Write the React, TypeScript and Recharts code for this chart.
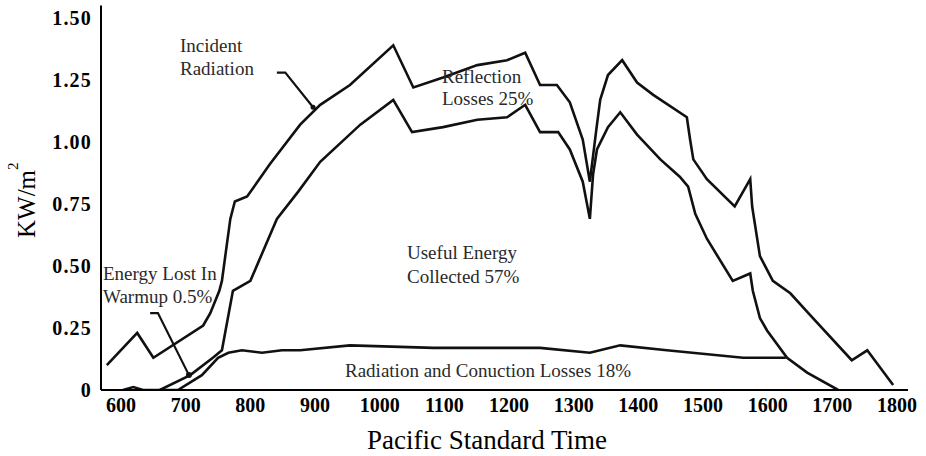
import React from "react";
import { LineChart, Line, XAxis, YAxis, ReferenceDot } from "recharts";

// ---- data (time in PST, value in kW/m^2) ----
const incidentT = [578, 625, 650, 727, 738, 752, 756, 769, 776, 795, 830, 877, 908, 954, 1021, 1052, 1098, 1151, 1197, 1225, 1248, 1274, 1294, 1314, 1325, 1335, 1341, 1353, 1375, 1398, 1423, 1475, 1480, 1485, 1506, 1549, 1573, 1576, 1588, 1608, 1635, 1670, 1730, 1754, 1794];
const incidentV = [0.10, 0.23, 0.13, 0.26, 0.31, 0.40, 0.44, 0.69, 0.76, 0.78, 0.91, 1.07, 1.15, 1.23, 1.39, 1.22, 1.26, 1.31, 1.33, 1.36, 1.23, 1.23, 1.16, 1.01, 0.84, 1.05, 1.17, 1.27, 1.33, 1.24, 1.19, 1.10, 1.01, 0.93, 0.85, 0.74, 0.85, 0.74, 0.54, 0.44, 0.39, 0.29, 0.12, 0.16, 0.02];

const usefulT = [660, 707, 742, 756, 773, 800, 841, 874, 908, 970, 1021, 1050, 1098, 1151, 1197, 1225, 1248, 1276, 1294, 1314, 1325, 1330, 1336, 1353, 1372, 1398, 1434, 1464, 1477, 1488, 1506, 1546, 1573, 1577, 1588, 1599, 1630, 1661, 1709];
const usefulV = [0, 0.06, 0.13, 0.16, 0.40, 0.44, 0.69, 0.80, 0.92, 1.07, 1.17, 1.04, 1.06, 1.09, 1.10, 1.15, 1.04, 1.04, 0.97, 0.84, 0.69, 0.87, 0.97, 1.06, 1.12, 1.03, 0.93, 0.86, 0.82, 0.71, 0.61, 0.44, 0.47, 0.40, 0.29, 0.24, 0.13, 0.07, 0];

const lossesT = [603, 619, 634, 688, 725, 750, 766, 787, 818, 849, 877, 954, 1083, 1212, 1248, 1325, 1372, 1444, 1562, 1628];
const lossesV = [0, 0.012, 0, 0, 0.06, 0.13, 0.15, 0.16, 0.15, 0.16, 0.16, 0.18, 0.17, 0.17, 0.17, 0.15, 0.18, 0.16, 0.13, 0.13];

const incidentArrowT = [841, 854, 897];
const incidentArrowV = [1.28, 1.28, 1.14];
const warmupArrowT = [645, 657, 705];
const warmupArrowV = [0.31, 0.31, 0.06];

const xTicks = [600, 700, 800, 900, 1000, 1100, 1200, 1300, 1400, 1500, 1600, 1700, 1800];
const yTicks = [0, 0.25, 0.5, 0.75, 1.0, 1.25, 1.5];

const zip = (ts: number[], vs: number[]) => ts.map((t, i) => ({ t, v: vs[i] }));

const incident = zip(incidentT, incidentV);
const useful = zip(usefulT, usefulV);
const losses = zip(lossesT, lossesV);
const incidentArrow = zip(incidentArrowT, incidentArrowV);
const warmupArrow = zip(warmupArrowT, warmupArrowV);

const SERIF = "'Liberation Serif', 'Times New Roman', serif";
const INK = "#111";

const XTick = (props: any) => {
  const { x, y, payload } = props;
  return (
    <text x={x} y={y} dy={22} textAnchor="middle" fontFamily={SERIF} fontSize={20} fontWeight="bold" fill="#000">
      {payload.value}
    </text>
  );
};

const YTick = (props: any) => {
  const { x, y, payload } = props;
  const v = payload.value;
  return (
    <text x={x - 9} y={y} dy={7} textAnchor="end" fontFamily={SERIF} fontSize={20} fontWeight="bold" letterSpacing={1.2} fill="#000">
      {v === 0 ? "0" : v.toFixed(2)}
    </text>
  );
};

const annStyle = { fontFamily: SERIF, fontSize: 19, fill: "#2a2a2a" } as const;

export default function App() {
  return (
    <div style={{ position: "absolute", left: 0, top: 0, width: 926, height: 456, background: "#fff" }}>
      <LineChart width={926} height={456} margin={{ top: 5.6, right: 18, bottom: 0, left: 0 }}>
        <XAxis
          dataKey="t"
          type="number"
          domain={[569, 1817]}
          ticks={xTicks}
          tick={<XTick />}
          tickLine={false}
          tickSize={0}
          tickMargin={0}
          height={66}
          axisLine={{ stroke: "#000", strokeWidth: 2 }}
          allowDataOverflow
        />
        <YAxis
          type="number"
          domain={[0, 1.55]}
          ticks={yTicks}
          tick={<YTick />}
          tickLine={false}
          tickSize={0}
          tickMargin={0}
          width={101}
          axisLine={{ stroke: "#000", strokeWidth: 2 }}
          allowDataOverflow
        />
        <Line data={incident} dataKey="v" type="linear" stroke={INK} strokeWidth={2.6} dot={false} isAnimationActive={false} />
        <Line data={useful} dataKey="v" type="linear" stroke={INK} strokeWidth={2.6} dot={false} isAnimationActive={false} />
        <Line data={losses} dataKey="v" type="linear" stroke={INK} strokeWidth={2.6} dot={false} isAnimationActive={false} />
        <Line data={incidentArrow} dataKey="v" type="linear" stroke={INK} strokeWidth={2.2} dot={false} isAnimationActive={false} />
        <Line data={warmupArrow} dataKey="v" type="linear" stroke={INK} strokeWidth={2.2} dot={false} isAnimationActive={false} />
        <ReferenceDot x={incidentArrowT[2]} y={incidentArrowV[2]} r={2.5} fill={INK} stroke="none" />
        <ReferenceDot x={warmupArrowT[2]} y={warmupArrowV[2]} r={3} fill={INK} stroke="none" />
      </LineChart>
      <svg width={926} height={456} style={{ position: "absolute", left: 0, top: 0, pointerEvents: "none" }}>
        <text {...annStyle} x={180} y={52}>Incident</text>
        <text {...annStyle} x={180} y={75}>Radiation</text>
        <text {...annStyle} x={442} y={83}>Reflection</text>
        <text {...annStyle} x={442} y={105}>Losses 25%</text>
        <text {...annStyle} x={407} y={259}>Useful Energy</text>
        <text {...annStyle} x={407} y={283}>Collected 57%</text>
        <text {...annStyle} x={103} y={280}>Energy Lost In</text>
        <text {...annStyle} x={103} y={303}>Warmup 0.5%</text>
        <text {...annStyle} x={345} y={377}>Radiation and Conuction Losses 18%</text>
        <text fontFamily={SERIF} fontSize={27} fill="#000" x={487} y={449} textAnchor="middle">Pacific Standard Time</text>
        <text fontFamily={SERIF} fontSize={25} fill="#000" transform="translate(35,238) rotate(-90)">
          KW/m<tspan fontSize={15} dy={-17}>2</tspan>
        </text>
      </svg>
    </div>
  );
}
